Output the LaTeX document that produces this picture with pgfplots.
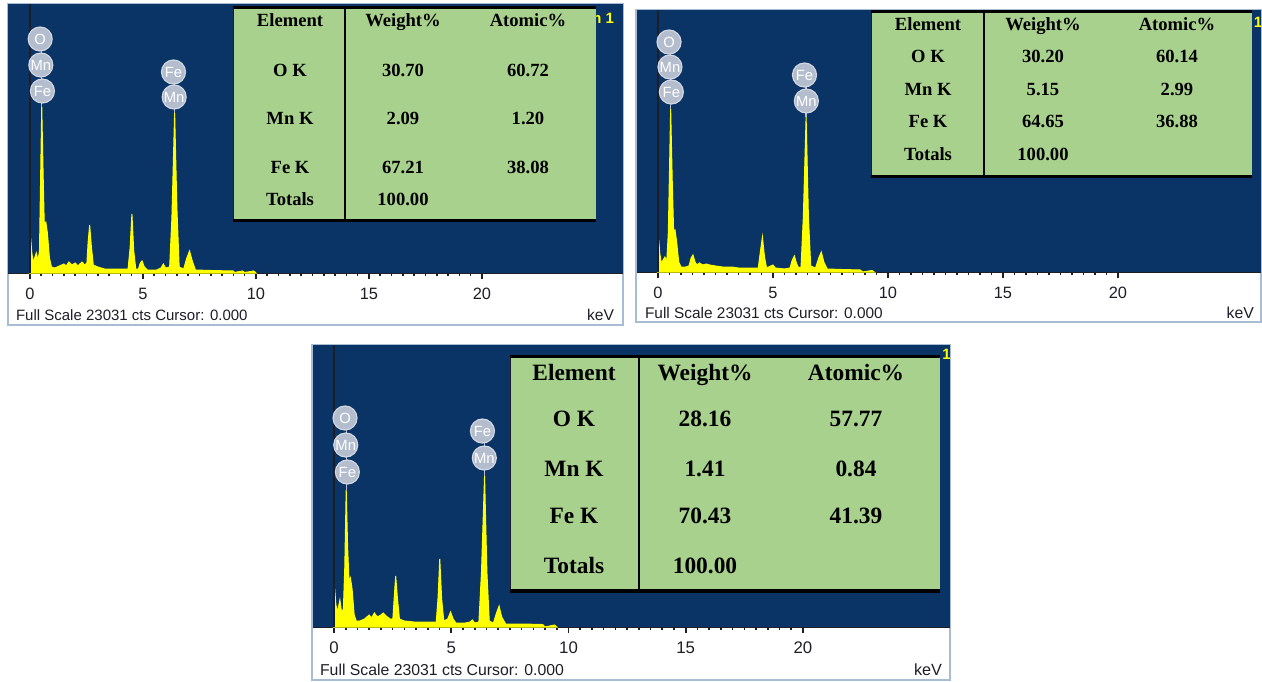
\documentclass[border=0pt]{standalone}
\usepackage{fontspec}
\setmainfont{Liberation Serif}
\setsansfont{Liberation Sans}
\usepackage{pgfplots}
\pgfplotsset{compat=1.18}

\definecolor{edsnavy}{HTML}{0A3466}
\definecolor{edsgreen}{HTML}{A9D18E}
\definecolor{edsyellow}{HTML}{FFFF00}
\definecolor{edstag}{HTML}{B4BDCD}
\definecolor{edsframe}{HTML}{A8BCD2}
\definecolor{edsink}{HTML}{1E1E28}

% common look of one EDS spectrum window
\pgfplotsset{
  eds/.style={
    scale only axis, anchor=south west, clip=false,
    axis background/.style={fill=edsnavy},
    axis x line*=bottom, axis y line=none,
    x axis line style={-, draw=edsink, line width=0.4pt},
    ymin=0, ytick=\empty,
    xtick={0,5,10,15,20},
    minor xtick={0,0.5,...,20},
    tick align=outside,
    major tick length=3pt, minor tick length=1.6pt,
    tick style={edsink, line width=0.8pt},
    /pgf/number format/assume math mode=true,
    xticklabel style={font=\sffamily\fontsize{8.2}{9}\selectfont, text=edsink,
      anchor=center, yshift=-7.5pt},
  },
  spectrum/.style={draw=edsyellow, fill=edsyellow, line width=0.5pt},
}

\newcommand{\pktag}[3]{%
  \node[circle, fill=edstag, draw=edstag!60!white, line width=0.6pt,
        text=white, inner sep=0pt, minimum size=12pt,
        font=\sffamily\fontsize{7.4}{8}\selectfont] at (axis cs:#1,#2) {#3};}

\begin{document}
\begin{tikzpicture}
\useasboundingbox (0,0) rectangle (631pt,-340.5pt);

% ---------------- window 1 ----------------
\begin{scope}[x=0.5pt, y=-0.5pt]
\draw[edsframe, fill=white, line width=0.6pt] (8,4) rectangle (623,325);
\end{scope}
\begin{axis}[eds, at={(4pt,-136.5pt)}, width=307.5pt, height=134.5pt,
  xmin=-0.973, xmax=26.24, ymax=269]
\addplot[spectrum] coordinates {
 (-0.05,0) (0.00,0) (0.03,35) (0.08,20) (0.15,10) (0.22,16) (0.28,20) (0.35,12)
 (0.42,22) (0.46,80) (0.52,166) (0.58,100) (0.63,50) (0.70,51) (0.77,40)
 (0.86,15) (0.95,6) (1.10,5) (1.30,7) (1.50,9) (1.60,7) (1.72,11) (1.85,8)
 (2.00,10) (2.12,7) (2.30,11) (2.42,8) (2.52,10) (2.57,30) (2.64,48) (2.71,28)
 (2.80,8) (3.00,6) (3.30,4) (3.60,4) (4.00,4) (4.34,4) (4.43,25) (4.51,59)
 (4.59,22) (4.68,4) (4.80,4) (4.88,10) (4.96,12) (5.06,6) (5.20,3) (5.60,3)
 (5.80,5) (5.90,9) (6.00,5) (6.18,6) (6.28,55) (6.40,160) (6.50,65) (6.60,6)
 (6.80,4) (6.94,15) (7.06,22) (7.18,12) (7.32,3) (8.00,2.5) (9.00,2)
 (9.05,0.5) (9.40,2) (9.50,0.5) (9.90,2) (10.0,0)} \closedcycle;
\draw[edsink, line width=0.6pt] (axis cs:0,0) -- (axis cs:0,269);
\draw[edstag, line width=0.7pt] (axis cs:0.52,166) -- (axis cs:0.52,234);
\draw[edstag, line width=0.7pt] (axis cs:6.40,160) -- (axis cs:6.40,201);
\pktag{0.45}{234}{O}\pktag{0.48}{208}{Mn}\pktag{0.55}{182}{Fe}
\pktag{6.35}{201}{Fe}\pktag{6.38}{176}{Mn}
\end{axis}
\begin{scope}[x=0.5pt, y=-0.5pt]
\node[anchor=east, text=edsyellow, font=\sffamily\bfseries\fontsize{7.5}{9}\selectfont] at (621,18) {m 1};
\node[anchor=west, text=edsink, font=\sffamily\fontsize{7.5}{9}\selectfont] at (9,315) {Full Scale 23031 cts Cursor: 0.000};
\node[anchor=east, text=edsink, font=\sffamily\fontsize{7.8}{9}\selectfont] at (621,315) {keV};
% composition table
\fill[edsgreen] (233,6) rectangle (596,221);
\draw[edsink, line width=0.3pt] (233,6) -- (233,221);
\draw[black, line width=1.5pt] (233,7) -- (596,7);
\draw[black, line width=1.5pt] (233,220) -- (596,220);
\draw[black, line width=0.6pt] (345,7) -- (345,220);
\begin{scope}[every node/.style={anchor=base, font=\bfseries\fontsize{9.3}{11}\selectfont}]
\node at (290,26) {Element}; \node at (403,26) {Weight\%}; \node at (528,26) {Atomic\%};
\node at (290,76) {O K};     \node at (403,76) {30.70};    \node at (528,76) {60.72};
\node at (290,124) {Mn K};   \node at (403,124) {2.09};    \node at (528,124) {1.20};
\node at (290,173) {Fe K};   \node at (403,173) {67.21};   \node at (528,173) {38.08};
\node at (290,205) {Totals}; \node at (403,205) {100.00};
\end{scope}

% ---------------- window 2 ----------------
\draw[edsframe, fill=white, line width=0.6pt] (636,9.5) rectangle (1261,322);
\end{scope}
\begin{axis}[eds, at={(318.5pt,-136pt)}, width=312pt, height=131.25pt,
  xmin=-0.913, xmax=26.22, ymax=262.5]
\addplot[spectrum] coordinates {
 (-0.05,0) (0.00,0) (0.03,32) (0.08,18) (0.15,8) (0.22,12) (0.30,15) (0.38,10)
 (0.45,40) (0.55,163) (0.62,90) (0.68,40) (0.74,42) (0.81,30) (0.90,10)
 (1.00,5) (1.20,5) (1.35,6) (1.44,14) (1.52,17) (1.61,10) (1.70,7) (1.80,9)
 (1.95,7) (2.10,8) (2.25,7) (2.50,6) (2.80,5) (3.20,5) (3.50,4) (4.00,4)
 (4.36,4) (4.45,20) (4.54,35) (4.63,15) (4.72,4) (4.90,6) (5.00,7) (5.10,4)
 (5.50,3) (5.74,4) (5.84,12) (5.93,16) (6.03,8) (6.12,4) (6.22,5) (6.32,55)
 (6.44,155) (6.54,55) (6.64,6) (6.85,4) (6.99,14) (7.10,20) (7.21,10)
 (7.36,3) (8.00,2.5) (8.80,2) (8.90,0) (9.30,1.5) (9.40,0)} \closedcycle;
\draw[edsink, line width=0.6pt] (axis cs:0,0) -- (axis cs:0,262.5);
\draw[edstag, line width=0.7pt] (axis cs:0.55,163) -- (axis cs:0.55,230);
\draw[edstag, line width=0.7pt] (axis cs:6.44,155) -- (axis cs:6.44,197);
\pktag{0.48}{230}{O}\pktag{0.52}{205}{Mn}\pktag{0.58}{180}{Fe}
\pktag{6.37}{197}{Fe}\pktag{6.45}{171}{Mn}
\end{axis}
\begin{scope}[x=0.5pt, y=-0.5pt]
\node[anchor=west, text=edsyellow, inner sep=0pt, font=\sffamily\bfseries\fontsize{7.5}{9}\selectfont] at (1253.5,22) {1};
\node[anchor=west, text=edsink, font=\sffamily\fontsize{7.7}{9}\selectfont] at (638,313) {Full Scale 23031 cts Cursor: 0.000};
\node[anchor=east, text=edsink, font=\sffamily\fontsize{7.9}{9}\selectfont] at (1261,313) {keV};
\fill[edsgreen] (871,10) rectangle (1252,177);
\draw[edsink, line width=0.3pt] (871,10) -- (871,177);
\draw[black, line width=1.5pt] (871,11.5) -- (1252,11.5);
\draw[black, line width=1.5pt] (871,176) -- (1252,176);
\draw[black, line width=0.6pt] (984,11.5) -- (984,176);
\begin{scope}[every node/.style={anchor=base, font=\bfseries\fontsize{9.3}{11}\selectfont}]
\node at (928,30) {Element}; \node at (1043,30) {Weight\%}; \node at (1177,30) {Atomic\%};
\node at (928,62) {O K};     \node at (1043,62) {30.20};    \node at (1177,62) {60.14};
\node at (928,95) {Mn K};    \node at (1043,95) {5.15};     \node at (1177,95) {2.99};
\node at (928,127) {Fe K};   \node at (1043,127) {64.65};   \node at (1177,127) {36.88};
\node at (928,160) {Totals}; \node at (1043,160) {100.00};
\end{scope}

% ---------------- window 3 ----------------
\draw[edsframe, fill=white, line width=0.6pt] (312,345) rectangle (950,680);
\end{scope}
\begin{axis}[eds, at={(156.5pt,-313.5pt)}, width=318.5pt, height=141pt,
  xmin=-0.896, xmax=26.27, ymax=282,
  xticklabel style={font=\sffamily\fontsize{8.4}{9}\selectfont}]
\addplot[spectrum] coordinates {
 (-0.05,0) (0.00,0) (0.03,38) (0.08,22) (0.15,15) (0.25,27) (0.32,15) (0.40,18)
 (0.46,60) (0.52,137) (0.58,80) (0.64,45) (0.70,49) (0.77,38) (0.86,12)
 (0.95,6) (1.10,6) (1.30,8) (1.50,12) (1.60,9) (1.72,14) (1.85,10) (2.00,12)
 (2.10,14) (2.22,11) (2.40,8) (2.51,8) (2.57,30) (2.63,51) (2.70,30) (2.79,8)
 (3.00,6) (3.40,5) (4.00,5) (4.36,5) (4.44,30) (4.51,68) (4.59,28) (4.68,6)
 (4.85,8) (4.97,15) (5.08,8) (5.20,4) (5.60,4) (5.80,5) (5.90,7) (6.00,4)
 (6.18,5) (6.29,55) (6.42,151) (6.52,55) (6.62,6) (6.80,4) (6.93,14)
 (7.04,21) (7.15,10) (7.32,3) (8.00,3) (8.90,2.5) (9.00,0) (9.40,2) (9.50,0)} \closedcycle;
\draw[edsink, line width=0.6pt] (axis cs:0,0) -- (axis cs:0,282);
\draw[edstag, line width=0.7pt] (axis cs:0.52,137) -- (axis cs:0.52,209);
\draw[edstag, line width=0.7pt] (axis cs:6.42,151) -- (axis cs:6.42,196);
\pktag{0.47}{209}{O}\pktag{0.50}{182}{Mn}\pktag{0.57}{155}{Fe}
\pktag{6.33}{196}{Fe}\pktag{6.41}{169}{Mn}
\end{axis}
\begin{scope}[x=0.5pt, y=-0.5pt]
\node[anchor=west, text=edsyellow, inner sep=0pt, font=\sffamily\bfseries\fontsize{7.5}{9}\selectfont] at (942,354) {1};
\node[anchor=west, text=edsink, font=\sffamily\fontsize{7.9}{9}\selectfont] at (313,670) {Full Scale 23031 cts Cursor: 0.000};
\node[anchor=east, text=edsink, font=\sffamily\fontsize{8.1}{9}\selectfont] at (949,670) {keV};
\fill[edsgreen] (510,355) rectangle (940,593);
\draw[edsink, line width=0.3pt] (510,355) -- (510,593);
\draw[black, line width=1.5pt] (510,356.5) -- (940,356.5);
\draw[black, line width=2pt] (510,591) -- (940,591);
\draw[black, line width=0.6pt] (639,356.5) -- (639,591);
\begin{scope}[every node/.style={anchor=base, font=\bfseries\fontsize{11.7}{14}\selectfont}]
\node at (574,380) {Element}; \node at (705,380) {Weight\%}; \node at (856,380) {Atomic\%};
\node at (574,426) {O K};     \node at (705,426) {28.16};    \node at (856,426) {57.77};
\node at (574,476) {Mn K};    \node at (705,476) {1.41};     \node at (856,476) {0.84};
\node at (574,523) {Fe K};    \node at (705,523) {70.43};    \node at (856,523) {41.39};
\node at (574,573) {Totals};  \node at (705,573) {100.00};
\end{scope}
\end{scope}
\end{tikzpicture}
\end{document}
